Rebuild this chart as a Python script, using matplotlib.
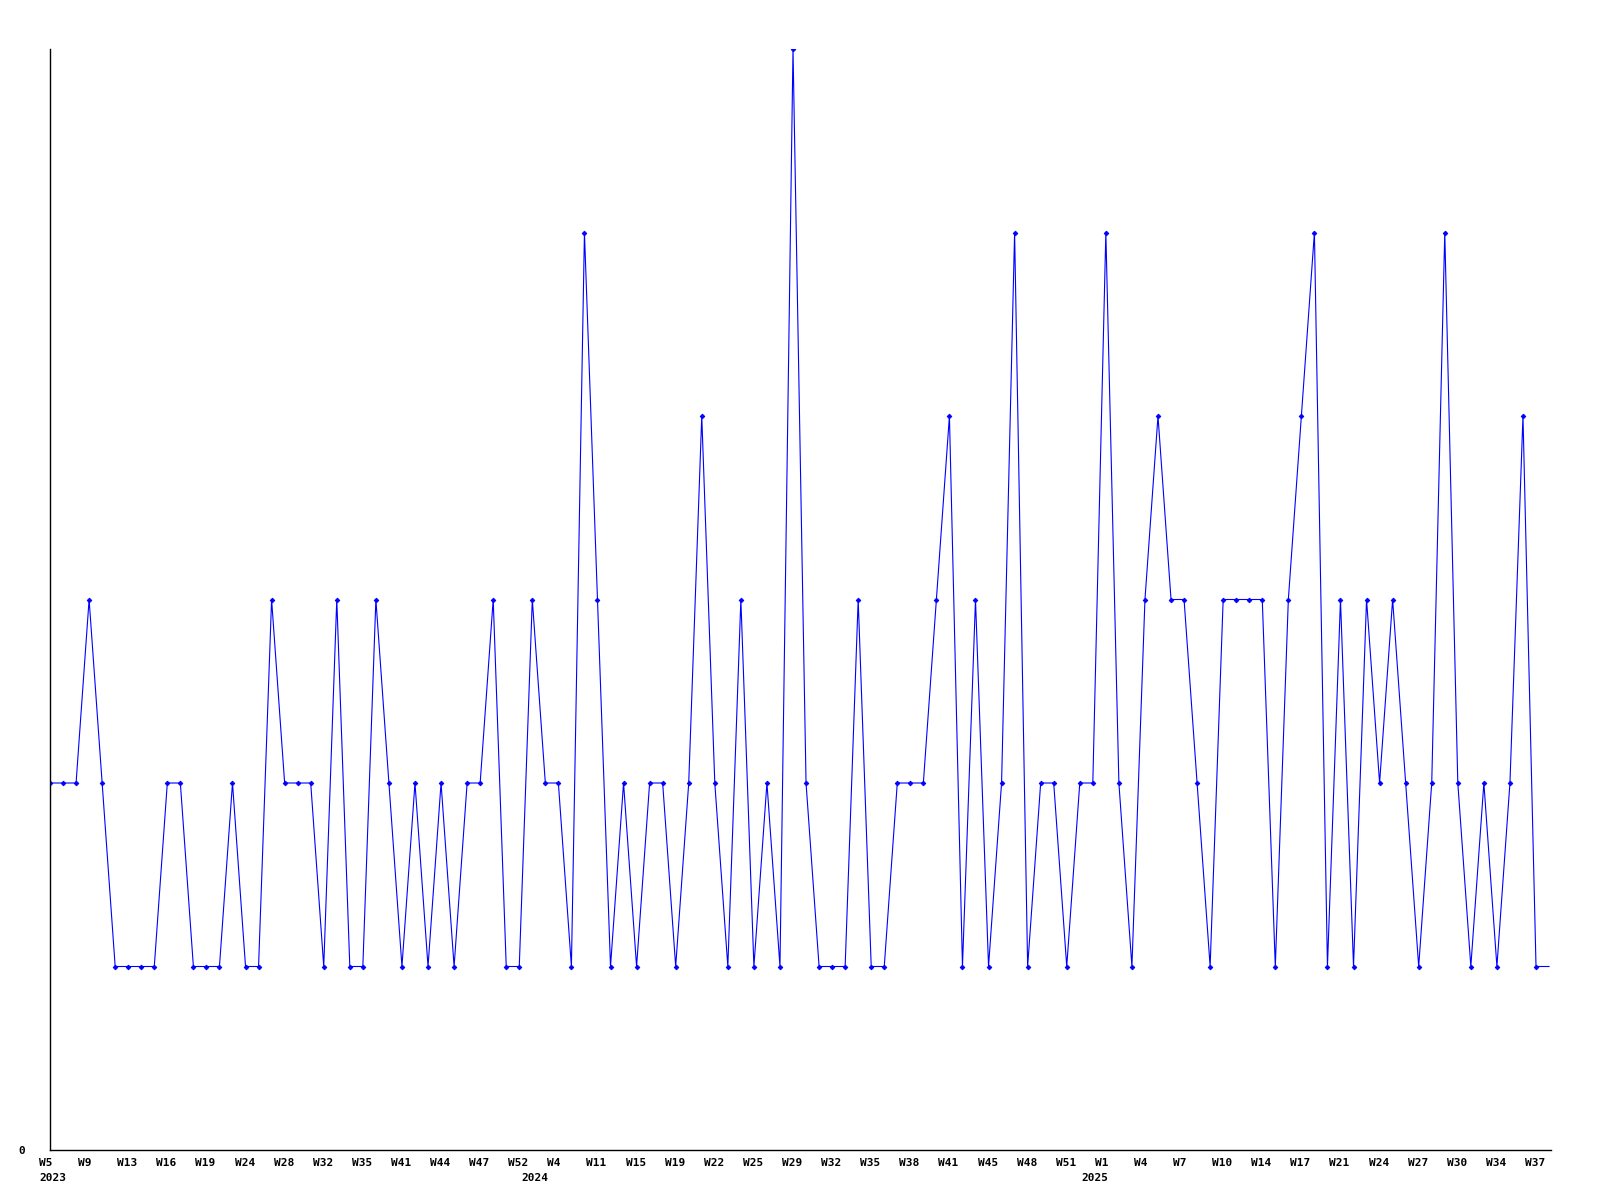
import matplotlib
matplotlib.use("Agg")
import matplotlib.pyplot as plt
import matplotlib.transforms as mtransforms

# valores semanales (0..6)
valores = [2, 2, 2, 3, 2, 1, 1, 1, 1, 2, 2, 1, 1, 1, 2, 1, 1, 3, 2, 2,
           2, 1, 3, 1, 1, 3, 2, 1, 2, 1, 2, 1, 2, 2, 3, 1, 1, 3, 2, 2,
           1, 5, 3, 1, 2, 1, 2, 2, 1, 2, 4, 2, 1, 3, 1, 2, 1, 6, 2, 1,
           1, 1, 3, 1, 1, 2, 2, 2, 3, 4, 1, 3, 1, 2, 5, 1, 2, 2, 1, 2,
           2, 5, 2, 1, 3, 4, 3, 3, 2, 1, 3, 3, 3, 3, 1, 3, 4, 5, 1, 3,
           1, 3, 2, 3, 2, 1, 2, 5, 2, 1, 2, 1, 2, 4, 1, 1]

etiquetas_semana = ['W5', 'W9', 'W13', 'W16', 'W19', 'W24', 'W28', 'W32', 'W35',
                    'W41', 'W44', 'W47', 'W52', 'W4', 'W11', 'W15', 'W19', 'W22',
                    'W25', 'W29', 'W32', 'W35', 'W38', 'W41', 'W45', 'W48', 'W51',
                    'W1', 'W4', 'W7', 'W10', 'W14', 'W17', 'W21', 'W24', 'W27',
                    'W30', 'W34', 'W37']
pos_semana = list(range(0, 3 * len(etiquetas_semana), 3))

anios = ['2023', '2024', '2025']
pos_anios = [0, 37, 80]

fuente = dict(family='DejaVu Sans Mono', weight='bold', size=8)

fig = plt.figure(figsize=(16, 12), dpi=100)
ax = fig.add_axes([50 / 1600, 50 / 1200, 1501 / 1600, 1101 / 1200])

x = list(range(len(valores)))
# el ultimo punto queda en el borde, sin marcador
ax.plot(x, valores, color='#0000ff', linewidth=0.8, marker='D', markersize=2.4,
        markeredgewidth=0.6, markevery=list(range(len(valores) - 1)))

ax.set_xlim(0, 115.15)
ax.set_ylim(0, 6)

for lado in ['top', 'right']:
    ax.spines[lado].set_visible(False)
for lado in ['left', 'bottom']:
    ax.spines[lado].set_linewidth(1.0)
    ax.spines[lado].set_color('black')

ax.set_yticks([0], ['0'], **fuente)
ax.tick_params(axis='y', length=0, pad=18)

ax.set_xticks(pos_semana, etiquetas_semana, **fuente)
ax.tick_params(axis='x', length=0, pad=6)
desplaza = mtransforms.ScaledTranslation(-11 / 100, 0, fig.dpi_scale_trans)
for t in ax.get_xticklabels():
    t.set_ha('left')
    t.set_transform(t.get_transform() + desplaza)

trans = mtransforms.blended_transform_factory(ax.transData, ax.transAxes)
trans = trans + mtransforms.ScaledTranslation(-11 / 100, -23 / 100, fig.dpi_scale_trans)
for a, p in zip(anios, pos_anios):
    ax.text(p, 0, a, transform=trans, ha='left', va='top', **fuente)

fig.savefig('out.png', dpi=100)
